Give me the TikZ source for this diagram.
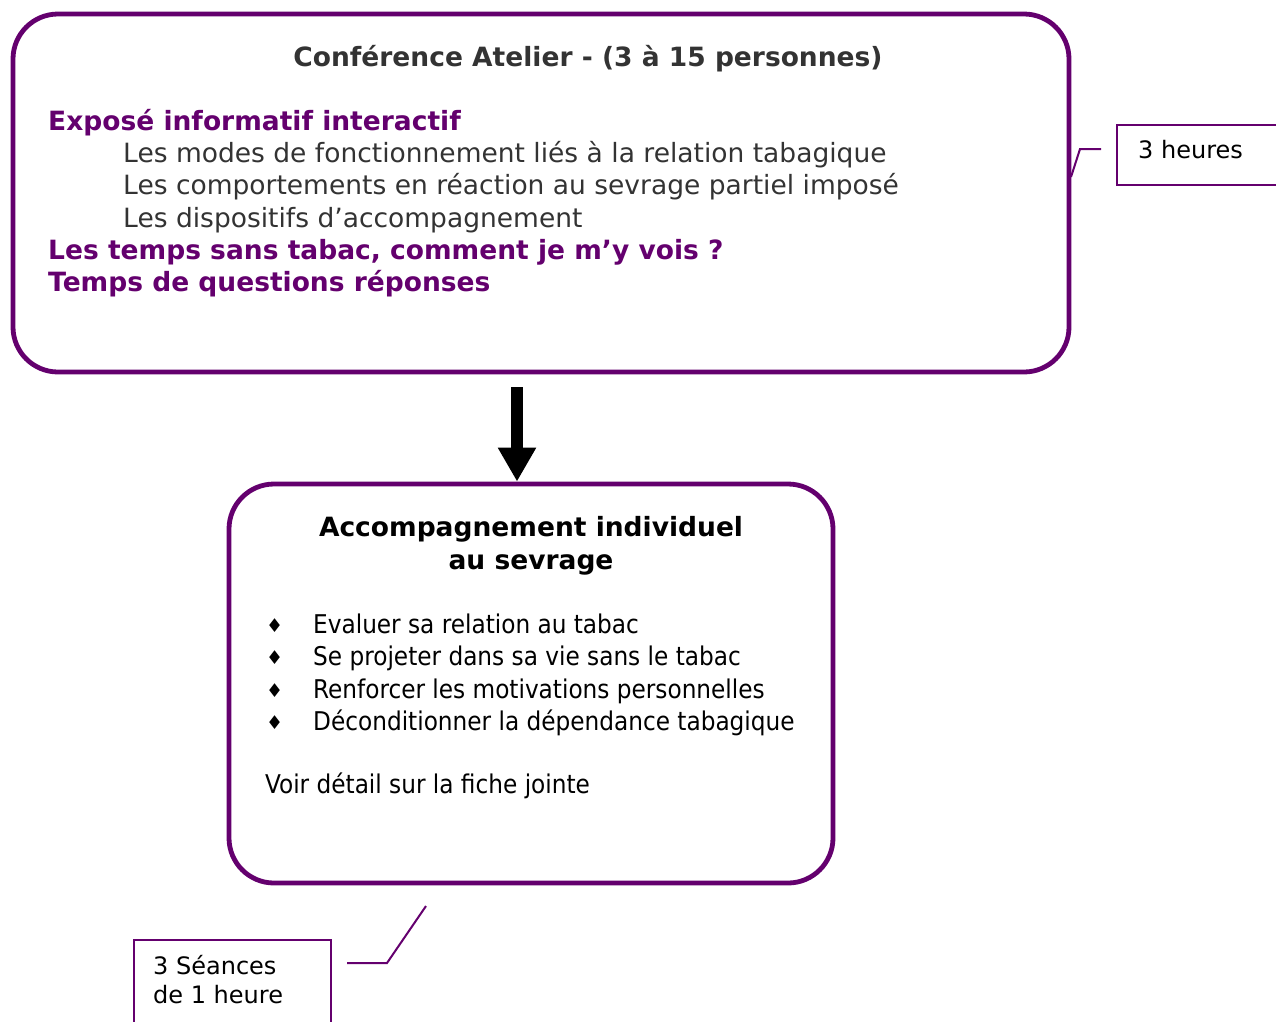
\documentclass[tikz,border=0pt]{standalone}
\usepackage{fontspec}
\setmainfont{DejaVu Sans}
\newfontfamily\tahomalike{DejaVu Sans Condensed}
\usetikzlibrary{positioning,arrows.meta}

\definecolor{prune}{RGB}{100,0,110}
\definecolor{grisfonce}{RGB}{51,51,51}

\tikzset{
  bloc/.style={draw=prune,line width=4.8pt,rounded corners=45pt,inner sep=0pt},
  ligne/.style={anchor=base west,inner sep=0pt,font=\fontsize{26.5}{32}\selectfont},
  titre/.style={ligne,font=\fontsize{26.5}{32}\selectfont\bfseries,text=grisfonce},
  rubrique/.style={ligne,font=\fontsize{26.5}{32}\selectfont\bfseries,text=prune},
  detail/.style={ligne,text=grisfonce},
  puce/.style={anchor=base west,inner sep=0pt,font=\fontsize{19}{20}\selectfont},
  etape/.style={anchor=base west,inner sep=0pt,font=\tahomalike\fontsize{25.8}{32}\selectfont},
  renvoi/.style={draw=prune,line width=2pt,anchor=north west,inner sep=0pt},
  renvoitexte/.style={anchor=base west,align=left,inner sep=0pt,
    font=\fontsize{24}{29}\selectfont},
  trait/.style={draw=prune,line width=2pt},
  fleche/.style={line width=12pt,-{Triangle[width=36pt,length=34pt]}}
}

\begin{document}
\begin{tikzpicture}[x=1pt,y=-1pt]
  \useasboundingbox (0,0) rectangle (1276,1021);

  % atelier
  \node[bloc,minimum width=1056pt,minimum height=358pt] (atelier) at (541,193) {};
  \node[titre,anchor=base] (titreA) at (588,66) {Conférence Atelier - (3 à 15 personnes)};
  \node[rubrique] (expose) at (48,130) {Exposé informatif interactif};
  \node[detail] (modes) at (123,162) {Les modes de fonctionnement liés à la relation tabagique};
  \node[detail] (compo) at (123,194) {Les comportements en réaction au sevrage partiel imposé};
  \node[detail] (dispo) at (123,227) {Les dispositifs d’accompagnement};
  \node[rubrique] (temps) at (48,259) {Les temps sans tabac, comment je m’y vois ?};
  \node[rubrique] (questions) at (48,291) {Temps de questions réponses};

  % accompagnement
  \node[bloc,minimum width=604pt,minimum height=399pt] (suivi) at (531,683.5) {};
  \node[ligne,anchor=base,font=\fontsize{26.5}{33}\selectfont\bfseries] (titreB) at (531,536) {Accompagnement individuel};
  \node[ligne,anchor=base,font=\fontsize{26.5}{33}\selectfont\bfseries] (titreC) at (531,569) {au sevrage};
  \foreach \y/\txt [count=\i] in {633/Evaluer sa relation au tabac,
      665/Se projeter dans sa vie sans le tabac,
      698/Renforcer les motivations personnelles,
      730/Déconditionner la dépendance tabagique}{
    \node[puce] (puce\i) at (266,\y-1) {♦};
    \node[etape] (etape\i) at (313,\y) {\txt};
  }
  \node[etape] (voir) at (265,793) {Voir détail sur la fiche jointe};

  \draw[fleche] ([xshift=-24pt,yshift=-13pt]atelier.south) -- ([xshift=-14pt]suivi.north);

  % renvois
  \node[renvoi,minimum width=180pt,minimum height=60pt] (duree) at (1116,124) {};
  \node[renvoitexte] (dureetexte) at ([xshift=22pt,yshift=-34.5pt]duree.north west) {3 heures};
  \draw[trait] ([xshift=-15pt,yshift=6pt]duree.west) -- ++(-21,0) -- ++(-9,28);

  \node[renvoi,minimum width=197pt,minimum height=100pt] (seances) at (133,939) {};
  \node[renvoitexte] (seancestexte) at ([xshift=20pt,yshift=-64pt]seances.north west) {3 Séances\\de 1 heure};
  \draw[trait] ([xshift=15pt,yshift=-24pt]seances.north east) -- ++(40,0) -- ++(39,-57);
\end{tikzpicture}
\end{document}
